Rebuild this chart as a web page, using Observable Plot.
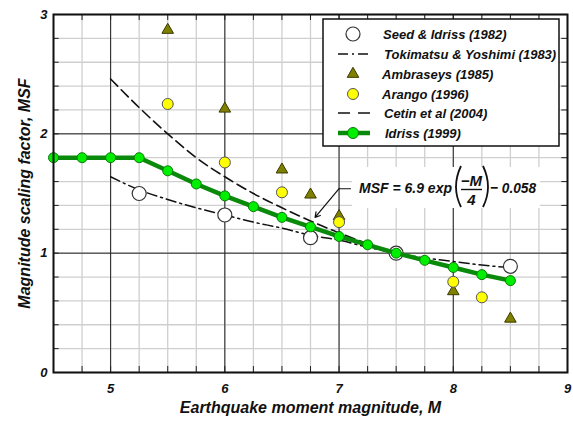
<!DOCTYPE html>
<html>
<head>
<meta charset="utf-8">
<script src="https://cdn.jsdelivr.net/npm/d3@7"></script>
<script src="https://cdn.jsdelivr.net/npm/@observablehq/plot@0.6"></script>
<style>
  html, body { margin: 0; padding: 0; background: white; }
  svg text { font-family: "Liberation Sans", Arial, sans-serif; }
</style>
</head>
<body>
<div id="chart"></div>
<script>
// ---- data ----
const idrissM   = [4.5, 4.75, 5, 5.25, 5.5, 5.75, 6, 6.25, 6.5, 6.75, 7, 7.25, 7.5, 7.75, 8, 8.25, 8.5];
const idrissMSF = [1.80, 1.80, 1.80, 1.80, 1.69, 1.58, 1.48, 1.39, 1.30, 1.22, 1.14, 1.07, 1.00, 0.94, 0.88, 0.82, 0.77];

const seedM   = [5.25, 6, 6.75, 7.5, 8.5];
const seedMSF = [1.50, 1.32, 1.13, 1.00, 0.89];

const tokiM   = [5, 5.25, 5.5, 5.75, 6, 6.25, 6.5, 6.75, 7, 7.25, 7.5, 7.75, 8, 8.25, 8.5];
const tokiMSF = [1.64, 1.53, 1.45, 1.38, 1.32, 1.26, 1.21, 1.15, 1.11, 1.05, 1.00, 0.96, 0.93, 0.90, 0.88];

const cetinM   = [5, 5.25, 5.5, 5.75, 6, 6.25, 6.5, 6.75, 7, 7.25, 7.5];
const cetinMSF = [2.46, 2.22, 2.00, 1.80, 1.64, 1.50, 1.38, 1.27, 1.17, 1.08, 1.00];

const ambM   = [5.5, 6, 6.5, 6.75, 7, 8, 8.5];
const ambMSF = [2.87, 2.21, 1.70, 1.49, 1.31, 0.68, 0.45];

const arangoM   = [5.5, 6, 6.5, 7, 8, 8.25];
const arangoMSF = [2.25, 1.76, 1.51, 1.26, 0.76, 0.63];

const xTicks = [5, 6, 7, 8, 9];
const yTicks = [0, 1, 2, 3];
const xMinor = d3.range(4.5, 9.001, 0.25);
const yMinor = d3.range(0, 3.001, 0.2);
const xMajorGrid = [5, 6, 7, 8];
const yMajorGrid = [1, 2];

const legendLabels = ["Seed & Idriss (1982)", "Tokimatsu & Yoshimi (1983)", "Ambraseys (1985)",
                      "Arango (1996)", "Cetin et al (2004)", "Idriss (1999)"];
const xTitle = "Earthquake moment magnitude, M";
const yTitle = "Magnitude scaling factor, MSF";

// annotation leader (data coords)
const leaderM = [7.10, 7.0];
const leaderMSF = [1.54, 1.54];
const arrowFrom = {x: 7.0, y: 1.54};
const arrowTo = {x: 6.79, y: 1.30};

const zip = (xs, ys) => xs.map((x, i) => ({x, y: ys[i]}));
const idriss = zip(idrissM, idrissMSF);
const seed = zip(seedM, seedMSF);
const toki = zip(tokiM, tokiMSF);
const cetin = zip(cetinM, cetinMSF);
const amb = zip(ambM, ambMSF);
const arango = zip(arangoM, arangoMSF);
const leader = zip(leaderM, leaderMSF);

const font = {fontWeight: "bold", fontStyle: "italic", fill: "#111"};

const svg = Plot.plot({
  width: 573,
  height: 428,
  marginLeft: 53,
  marginRight: 6,
  marginTop: 14,
  marginBottom: 56,
  style: {background: "white", fontFamily: "Liberation Sans, Arial, sans-serif"},
  x: {domain: [4.5, 9], axis: null},
  y: {domain: [0, 3], axis: null},
  marks: [
    // minor grid
    Plot.ruleX(xMinor, {x: d => d, stroke: "#cfcfcf", strokeWidth: 1.3}),
    Plot.ruleY(yMinor, {y: d => d, stroke: "#cfcfcf", strokeWidth: 1.3}),
    // major grid
    Plot.ruleX(xMajorGrid, {x: d => d, stroke: "#222", strokeWidth: 1}),
    Plot.ruleY(yMajorGrid, {y: d => d, stroke: "#222", strokeWidth: 1}),
    // inward ticks on all sides
    Plot.ruleX(xMinor, {x: d => d, y1: 0, y2: 0.05, stroke: "#222", strokeWidth: 1}),
    Plot.ruleX(xMinor, {x: d => d, y1: 3, y2: 2.95, stroke: "#222", strokeWidth: 1}),
    Plot.ruleY(yMinor, {y: d => d, x1: 4.5, x2: 4.55, stroke: "#222", strokeWidth: 1}),
    Plot.ruleY(yMinor, {y: d => d, x1: 9, x2: 8.95, stroke: "#222", strokeWidth: 1}),
    // tick labels
    Plot.text(xTicks, {x: d => d, y: 0, dy: 16, text: d => String(d), fontSize: 13, ...font}),
    Plot.text(yTicks, {x: 4.5, y: d => d, dx: -6, textAnchor: "end", text: d => String(d), fontSize: 13, ...font}),
    // titles
    Plot.text([xTitle], {frameAnchor: "bottom", textAnchor: "middle", dy: 40, text: d => d, fontSize: 16, ...font}),
    Plot.text([yTitle], {frameAnchor: "left", textAnchor: "middle", dx: -29, rotate: -90, text: d => d, fontSize: 16, ...font}),
    // curves
    Plot.line(toki, {x: "x", y: "y", stroke: "#111", strokeWidth: 1.5, strokeDasharray: "10,4,2,4", curve: "monotone-x"}),
    Plot.line(cetin, {x: "x", y: "y", stroke: "#111", strokeWidth: 1.6, strokeDasharray: "10,5", curve: "monotone-x"}),
    // points
    Plot.dot(seed, {x: "x", y: "y", r: 7, fill: "white", stroke: "#333", strokeWidth: 1.2}),
    Plot.dot(amb, {x: "x", y: "y", symbol: "triangle", r: 4.3, fill: "#808000", stroke: "#3a3a00", strokeWidth: 1}),
    Plot.dot(arango, {x: "x", y: "y", r: 5.5, fill: "#ffff00", stroke: "#555", strokeWidth: 1}),
    Plot.line(idriss, {x: "x", y: "y", stroke: "#0a8a0a", strokeWidth: 4.5}),
    Plot.dot(idriss, {x: "x", y: "y", r: 5, fill: "#00ee00", stroke: "#0a7a0a", strokeWidth: 1}),
    // annotation leader
    Plot.line(leader, {x: "x", y: "y", stroke: "#111", strokeWidth: 1.2}),
    Plot.arrow([0], {x1: () => arrowFrom.x, y1: () => arrowFrom.y, x2: () => arrowTo.x, y2: () => arrowTo.y,
                     stroke: "#111", strokeWidth: 1.2, headLength: 7, bend: 0}),
    // frame
    Plot.frame({stroke: "#111", strokeWidth: 2})
  ]
});

document.getElementById("chart").appendChild(svg);

// ---- legend and equation annotation ----
const s = d3.select(svg);
const fontAttrs = sel => sel.attr("font-family", "Liberation Sans, Arial, sans-serif")
  .attr("font-weight", "bold").attr("font-style", "italic").attr("fill", "#111");

// equation box
const eq = s.append("g").attr("text-anchor", "start");
eq.append("rect").attr("x", 352).attr("y", 167).attr("width", 188).attr("height", 41).attr("fill", "white");
eq.append("text").attr("x", 359).attr("y", 193).attr("font-size", 15.5)
  .attr("textLength", 93).attr("lengthAdjust", "spacingAndGlyphs").text("MSF = 6.9 exp").call(fontAttrs);
eq.append("path").attr("d", "M461,166 Q451,187 461,207").attr("fill", "none").attr("stroke", "#111").attr("stroke-width", 1.8);
eq.append("path").attr("d", "M483,166 Q493,187 483,207").attr("fill", "none").attr("stroke", "#111").attr("stroke-width", 1.8);
eq.append("text").attr("x", 471.5).attr("y", 186).attr("text-anchor", "middle").attr("font-size", 15).text("−M").call(fontAttrs);
eq.append("line").attr("x1", 461).attr("x2", 482).attr("y1", 189.5).attr("y2", 189.5).attr("stroke", "#111").attr("stroke-width", 1.4);
eq.append("text").attr("x", 471.5).attr("y", 205).attr("text-anchor", "middle").attr("font-size", 15).text("4").call(fontAttrs);
eq.append("text").attr("x", 490).attr("y", 193).attr("font-size", 15.5)
  .attr("textLength", 46).attr("lengthAdjust", "spacingAndGlyphs").text("− 0.058").call(fontAttrs);

// legend box
const g = s.append("g").attr("text-anchor", "start");
g.append("rect").attr("x", 323).attr("y", 19).attr("width", 236).attr("height", 127)
  .attr("fill", "white").attr("stroke", "#111").attr("stroke-width", 1.5);
const rowY = [34, 54, 74, 94, 113, 133];
const sx = 353;
// 1 seed
g.append("circle").attr("cx", sx).attr("cy", rowY[0]).attr("r", 7).attr("fill", "white").attr("stroke", "#333").attr("stroke-width", 1.2);
// 2 tokimatsu
g.append("line").attr("x1", 338).attr("x2", 370).attr("y1", rowY[1]).attr("y2", rowY[1])
  .attr("stroke", "#111").attr("stroke-width", 1.5).attr("stroke-dasharray", "10,4,2,4");
// 3 ambraseys
g.append("path").attr("transform", `translate(${sx},${rowY[2]})`)
  .attr("d", d3.symbol(d3.symbolTriangle, Math.PI * 4.3 * 4.3)())
  .attr("fill", "#808000").attr("stroke", "#3a3a00");
// 4 arango
g.append("circle").attr("cx", sx).attr("cy", rowY[3]).attr("r", 5.5).attr("fill", "#ffff00").attr("stroke", "#555");
// 5 cetin
g.append("line").attr("x1", 338).attr("x2", 370).attr("y1", rowY[4]).attr("y2", rowY[4])
  .attr("stroke", "#111").attr("stroke-width", 1.6).attr("stroke-dasharray", "12,8");
// 6 idriss
g.append("line").attr("x1", 338).attr("x2", 370).attr("y1", rowY[5]).attr("y2", rowY[5])
  .attr("stroke", "#0a8a0a").attr("stroke-width", 4.5);
g.append("circle").attr("cx", sx).attr("cy", rowY[5]).attr("r", 5.5).attr("fill", "#00ee00").attr("stroke", "#0a7a0a");

const textX = [383, 384, 382, 382, 384, 385];
legendLabels.forEach((t, i) => {
  g.append("text").attr("x", textX[i]).attr("y", rowY[i] + 4.5).attr("font-size", 13).text(t).call(fontAttrs);
});
</script>
</body>
</html>
